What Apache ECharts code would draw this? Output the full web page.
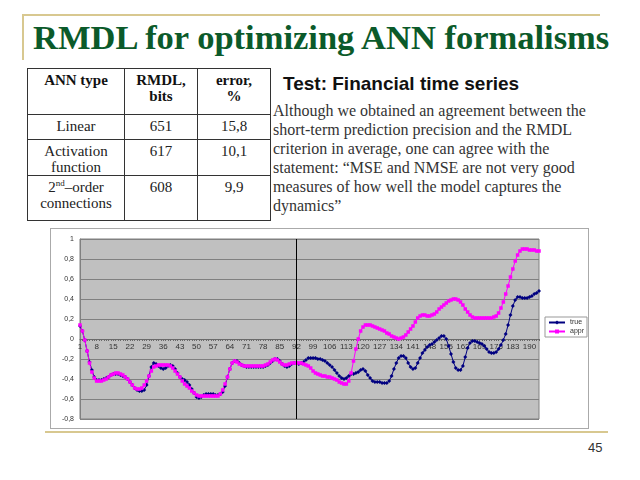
<!DOCTYPE html>
<html>
<head>
<meta charset="utf-8">
<script src="https://cdn.jsdelivr.net/npm/echarts@6/dist/echarts.min.js"></script>
<style>
  html, body { margin:0; padding:0; background:#fff; width:640px; height:480px; overflow:hidden; position:relative; }
  .abs { position:absolute; }
  #title { left:33px; top:18px; font-family:"Liberation Serif","Times New Roman",serif; font-weight:bold; font-size:34.5px; color:#0b5a2a; white-space:nowrap; }
  table { border-collapse:collapse; font-family:"Liberation Serif","Times New Roman",serif; font-size:15px; color:#222; }
  td, th { border:1.5px solid #333; text-align:center; vertical-align:top; padding:3px 2px 0 2px; line-height:16px; }
  th { font-weight:bold; color:#111; }
  #sub { left:283px; top:73px; font-family:"Liberation Sans",Arial,sans-serif; font-weight:bold; font-size:19px; color:#111; white-space:nowrap; }
  #para { left:273px; top:101px; font-family:"Liberation Serif","Times New Roman",serif; font-size:16px; line-height:19px; color:#333; white-space:nowrap; }
  #chart { left:50px; top:228px; width:537px; height:199px; border:1px solid #aaa; background:#fff; }
  #pg { left:588px; top:440px; font-family:"Liberation Sans",Arial,sans-serif; font-size:13px; color:#333; }
</style>
</head>
<body>
<div class="abs" style="left:22px;top:14px;width:578px;height:2px;background:#d8c890;"></div>
<div class="abs" style="left:22px;top:14px;width:2px;height:46px;background:#d8c890;"></div>
<div class="abs" id="title">RMDL for optimizing ANN formalisms</div>

<table class="abs" style="left:27px;top:68px;width:244px;height:153px;">
  <tr style="height:46px"><th style="width:92px">ANN type</th><th style="width:68px">RMDL,<br>bits</th><th>error,<br>%</th></tr>
  <tr style="height:25px"><td>Linear</td><td>651</td><td>15,8</td></tr>
  <tr style="height:31px"><td>Activation<br>function</td><td>617</td><td>10,1</td></tr>
  <tr><td>2<sup style="font-size:9px;line-height:0">nd</sup>–order<br>connections</td><td>608</td><td>9,9</td></tr>
</table>

<div class="abs" id="sub">Test: Financial time series</div>
<div class="abs" id="para">Although we obtained an agreement between the<br>short-term prediction precision and the RMDL<br>criterion in average, one can agree with the<br>statement: “MSE and NMSE are not very good<br>measures of how well the model captures the<br>dynamics”</div>

<div class="abs" id="chart"></div>
<div class="abs" style="left:45px;top:431px;width:563px;height:2px;background:#d8c890;"></div>
<div class="abs" id="pg">45</div>

<script>
var categories = Array.from({length:194}, function(_, i){ return String(i + 1); });

var trueValues = [
 0.13,0.08,-0.01,-0.12,-0.23,-0.31,-0.38,-0.41,-0.41,-0.41,
 -0.40,-0.39,-0.38,-0.36,-0.35,-0.35,-0.35,-0.36,-0.37,-0.38,
 -0.40,-0.43,-0.46,-0.49,-0.51,-0.52,-0.52,-0.51,-0.46,-0.37,
 -0.28,-0.24,-0.25,-0.27,-0.29,-0.30,-0.29,-0.27,-0.26,-0.27,
 -0.30,-0.34,-0.38,-0.40,-0.41,-0.43,-0.46,-0.50,-0.54,-0.58,
 -0.59,-0.58,-0.56,-0.55,-0.55,-0.55,-0.55,-0.56,-0.56,-0.55,
 -0.53,-0.47,-0.38,-0.30,-0.24,-0.22,-0.22,-0.24,-0.26,-0.27,
 -0.28,-0.28,-0.28,-0.28,-0.28,-0.28,-0.28,-0.28,-0.27,-0.26,
 -0.24,-0.22,-0.20,-0.20,-0.22,-0.25,-0.27,-0.28,-0.27,-0.25,
 -0.24,-0.24,-0.25,-0.24,-0.23,-0.21,-0.19,-0.19,-0.19,-0.19,
 -0.20,-0.20,-0.21,-0.22,-0.24,-0.26,-0.28,-0.31,-0.34,-0.37,
 -0.39,-0.40,-0.39,-0.37,-0.35,-0.35,-0.34,-0.33,-0.31,-0.30,
 -0.32,-0.36,-0.39,-0.42,-0.43,-0.43,-0.43,-0.44,-0.44,-0.44,
 -0.42,-0.37,-0.30,-0.24,-0.19,-0.17,-0.17,-0.19,-0.24,-0.28,
 -0.30,-0.29,-0.24,-0.19,-0.14,-0.11,-0.08,-0.06,-0.05,-0.03,
 -0.01,0.01,0.03,0.03,0.00,-0.07,-0.15,-0.23,-0.29,-0.31,
 -0.31,-0.27,-0.18,-0.09,-0.04,-0.02,-0.02,-0.03,-0.04,-0.05,
 -0.07,-0.10,-0.13,-0.14,-0.14,-0.13,-0.10,-0.06,-0.01,0.05,
 0.14,0.24,0.33,0.39,0.42,0.42,0.41,0.41,0.41,0.42,
 0.43,0.45,0.46,0.48
];

var apprValues = [
 0.14,0.08,-0.01,-0.12,-0.24,-0.33,-0.39,-0.42,-0.42,-0.42,
 -0.41,-0.40,-0.38,-0.36,-0.35,-0.34,-0.34,-0.35,-0.36,-0.38,
 -0.40,-0.43,-0.46,-0.49,-0.50,-0.50,-0.49,-0.46,-0.42,-0.37,
 -0.32,-0.28,-0.27,-0.26,-0.26,-0.26,-0.26,-0.26,-0.27,-0.29,
 -0.32,-0.35,-0.38,-0.42,-0.45,-0.47,-0.49,-0.52,-0.54,-0.56,
 -0.57,-0.57,-0.57,-0.57,-0.57,-0.57,-0.57,-0.57,-0.57,-0.55,
 -0.51,-0.45,-0.38,-0.30,-0.24,-0.22,-0.23,-0.25,-0.26,-0.27,
 -0.27,-0.27,-0.27,-0.27,-0.27,-0.27,-0.27,-0.27,-0.26,-0.25,
 -0.23,-0.21,-0.20,-0.21,-0.23,-0.25,-0.26,-0.26,-0.25,-0.24,
 -0.24,-0.24,-0.24,-0.24,-0.25,-0.26,-0.27,-0.29,-0.32,-0.34,
 -0.35,-0.36,-0.37,-0.37,-0.38,-0.38,-0.39,-0.40,-0.41,-0.43,
 -0.44,-0.45,-0.45,-0.42,-0.34,-0.22,-0.10,0.00,0.08,0.12,
 0.14,0.14,0.14,0.13,0.12,0.11,0.10,0.09,0.08,0.06,
 0.05,0.03,0.02,0.01,0.00,0.01,0.02,0.04,0.07,0.10,
 0.13,0.17,0.21,0.23,0.24,0.24,0.23,0.23,0.24,0.25,
 0.27,0.30,0.32,0.34,0.36,0.38,0.39,0.40,0.40,0.39,
 0.37,0.34,0.30,0.27,0.24,0.22,0.21,0.21,0.21,0.21,
 0.21,0.21,0.21,0.21,0.22,0.23,0.26,0.31,0.37,0.45,
 0.53,0.62,0.70,0.78,0.84,0.88,0.90,0.90,0.90,0.89,
 0.89,0.89,0.88,0.88
];

var seriesNames = ['true', 'appr'];
var splitCategory = '92';
var yMin = -0.8, yMax = 1, yStep = 0.2;

var gridTop = 10, gridBottom = 9, chartHeight = 199;
var plotHeight = chartHeight - gridTop - gridBottom;
var zeroOffset = -plotHeight * (0 - yMin) / (yMax - yMin);

var chart = echarts.init(document.getElementById('chart'), null, {renderer:'canvas'});
chart.setOption({
  animation: false,
  grid: { left:29, top:gridTop, right:49, bottom:gridBottom, show:true, backgroundColor:'#c0c0c0', borderColor:'#808080', borderWidth:1 },
  legend: {
    data: seriesNames, orient:'vertical', left:494, top:88,
    backgroundColor:'#fff', borderColor:'#999', borderWidth:1, padding:[2,3,2,3],
    itemWidth:16, itemHeight:5, itemGap:2,
    textStyle:{ fontSize:7, color:'#333', fontFamily:'Liberation Sans, Arial, sans-serif' }
  },
  xAxis: {
    type:'category', data:categories, boundaryGap:false, offset: zeroOffset,
    axisLine:{ onZero:false, lineStyle:{ color:'#6a6a6a', width:1 } },
    axisTick:{ show:true, interval:0, length:2, lineStyle:{ color:'#6a6a6a' } },
    axisLabel:{ interval:6, fontSize:8, color:'#333', margin:4, fontFamily:'Liberation Sans, Arial, sans-serif' },
    splitLine:{ show:false }
  },
  yAxis: {
    type:'value', min:yMin, max:yMax, interval:yStep,
    axisLine:{ show:true, lineStyle:{ color:'#808080' } },
    axisTick:{ show:false },
    axisLabel:{ fontSize:7, color:'#333', margin:6, fontFamily:'Liberation Sans, Arial, sans-serif',
      formatter:function(v){ return String(Math.round(v*10)/10).replace('.', ','); } },
    splitLine:{ show:true, lineStyle:{ color:'#808080', width:1 } }
  },
  series: [
    { name:seriesNames[0], type:'line', data:trueValues, symbol:'diamond', symbolSize:4, showAllSymbol:true,
      itemStyle:{ color:'#000080' }, lineStyle:{ color:'#000080', width:1 },
      markLine:{ silent:true, symbol:'none', label:{show:false}, lineStyle:{ color:'#000', type:'solid', width:1 },
        data:[{ xAxis: splitCategory }] } },
    { name:seriesNames[1], type:'line', data:apprValues, symbol:'rect', symbolSize:3.5, showAllSymbol:true,
      itemStyle:{ color:'#ff00ff' }, lineStyle:{ color:'#ff00ff', width:1 } }
  ]
});
</script>
</body>
</html>
